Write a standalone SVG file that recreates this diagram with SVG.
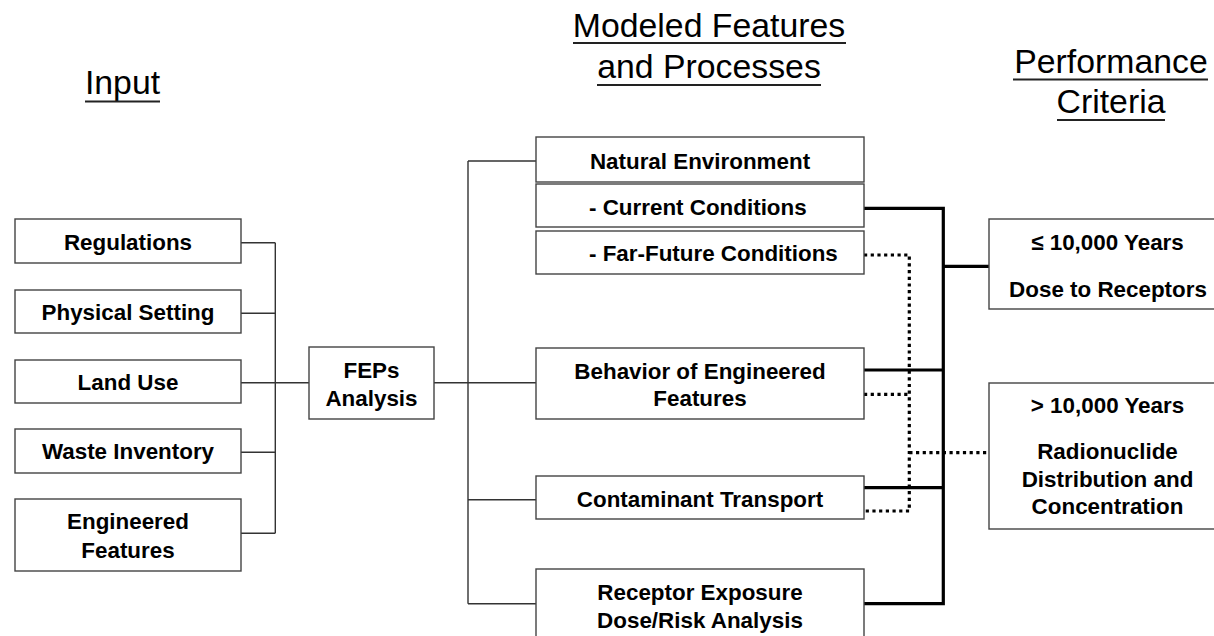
<svg xmlns="http://www.w3.org/2000/svg" width="1214" height="636" viewBox="0 0 1214 636">
<style>
.box{fill:#fff;stroke:#444;stroke-width:1.4}
.t{font-family:"Liberation Sans",Arial,sans-serif;font-weight:bold;font-size:22.4px;fill:#000;text-anchor:middle}
.h{font-family:"Liberation Sans",Arial,sans-serif;font-size:33.8px;fill:#000;text-anchor:middle}
.ul{stroke:#222;stroke-width:2}
.thin{fill:none;stroke:#333;stroke-width:1.4}
.thick{fill:none;stroke:#000;stroke-width:3.2}
.dot{fill:none;stroke:#000;stroke-width:3.2;stroke-dasharray:3.2 3.5}
</style>
<rect width="1214" height="636" fill="#fff"/>
<g id="headings">
<text class="h" x="122.5" y="93.5">Input</text>
<line class="ul" x1="85" y1="101.5" x2="160" y2="101.5"/>
<text class="h" x="709" y="36.5">Modeled Features</text>
<line class="ul" x1="573" y1="43" x2="846" y2="43"/>
<text class="h" x="709" y="78">and Processes</text>
<line class="ul" x1="597" y1="85" x2="821" y2="85"/>
<text class="h" x="1111" y="73">Performance</text>
<line class="ul" x1="1013" y1="79.5" x2="1208" y2="79.5"/>
<text class="h" x="1111" y="113">Criteria</text>
<line class="ul" x1="1057" y1="120" x2="1165" y2="120"/>
</g>
<g id="connectors">
<path class="thin" d="M241 242.7H275.3M241 313.3H275.3M241 382.7H309M241 452.3H275.3M241 533.3H275.3M275.3 242.7V533.3"/>
<path class="thin" d="M434 382.7H536M468 161H536M468 499.7H536M468 603.7H536M468 161V603.7"/>
<path class="thick" d="M864 208.3H943.3M864 370H943.3M864 487.7H943.3M864 603.7H943.3M943.3 206.7V605.3M943.3 266.3H989"/>
<path class="dot" d="M864 255H909.3V511H864M864 394.3H909.3M909.3 452.7H989"/>
</g>
<g id="regulations"><rect class="box" x="15" y="219" width="226" height="44"/><text class="t" x="128" y="249.5">Regulations</text></g>
<g id="physical-setting"><rect class="box" x="15" y="290" width="226" height="43"/><text class="t" x="128" y="319.5">Physical Setting</text></g>
<g id="land-use"><rect class="box" x="15" y="360" width="226" height="43"/><text class="t" x="128" y="389.5">Land Use</text></g>
<g id="waste-inventory"><rect class="box" x="15" y="429" width="226" height="44"/><text class="t" x="128" y="459">Waste Inventory</text></g>
<g id="engineered-features"><rect class="box" x="15" y="499" width="226" height="72"/><text class="t" x="128" y="529">Engineered</text><text class="t" x="128" y="557.5">Features</text></g>
<g id="feps-analysis"><rect class="box" x="309" y="347" width="125" height="72"/><text class="t" x="371.5" y="378">FEPs</text><text class="t" x="371.5" y="406">Analysis</text></g>
<g id="natural-environment"><rect class="box" x="536" y="137" width="328" height="45"/><text class="t" x="700" y="168.5">Natural Environment</text></g>
<g id="current-conditions"><rect class="box" x="536" y="184" width="328" height="43"/><text class="t" x="589" y="214.5" style="text-anchor:start">- Current Conditions</text></g>
<g id="far-future-conditions"><rect class="box" x="536" y="231" width="328" height="43"/><text class="t" x="589" y="260.5" style="text-anchor:start">- Far-Future Conditions</text></g>
<g id="behavior-engineered"><rect class="box" x="536" y="348" width="328" height="71"/><text class="t" x="700" y="378.5">Behavior of Engineered</text><text class="t" x="700" y="405.5">Features</text></g>
<g id="contaminant-transport"><rect class="box" x="536" y="476" width="328" height="43"/><text class="t" x="700" y="507">Contaminant Transport</text></g>
<g id="receptor-exposure"><rect class="box" x="536" y="569" width="328" height="72"/><text class="t" x="700" y="600">Receptor Exposure</text><text class="t" x="700" y="627.5">Dose/Risk Analysis</text></g>
<g id="le-10000"><rect class="box" x="989" y="219" width="238" height="90"/><text class="t" x="1107.5" y="250">≤ 10,000 Years</text><text class="t" x="1108" y="296.5">Dose to Receptors</text></g>
<g id="gt-10000"><rect class="box" x="989" y="383" width="238" height="146"/><text class="t" x="1107.5" y="412.5">&gt; 10,000 Years</text><text class="t" x="1107.5" y="458.5">Radionuclide</text><text class="t" x="1107.5" y="486.5">Distribution and</text><text class="t" x="1107.5" y="514">Concentration</text></g>
</svg>
